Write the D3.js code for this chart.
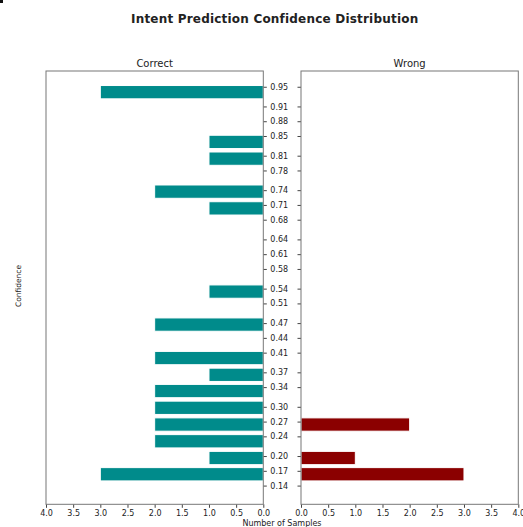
<!DOCTYPE html>
<html>
<head>
<meta charset="utf-8">
<script src="https://cdn.jsdelivr.net/npm/d3@7"></script>
<style>
  body { margin: 0; background: #fff; }
  svg { display: block; }
  text { font-family: "DejaVu Sans", sans-serif; fill: #222; }
</style>
</head>
<body>
<svg id="chart" width="523" height="527"></svg>
<script>
// Confidence bins (bar centres) and the rounded values shown as tick labels
const binCenters = [0.129, 0.163, 0.196, 0.230, 0.264, 0.298, 0.332, 0.365, 0.399, 0.433,
                    0.467, 0.500, 0.534, 0.568, 0.602, 0.635, 0.669, 0.703, 0.737, 0.770,
                    0.804, 0.838, 0.872, 0.905, 0.939];
const confidenceTicks = [0.14, 0.17, 0.20, 0.24, 0.27, 0.30, 0.34, 0.37, 0.41, 0.44,
                         0.47, 0.51, 0.54, 0.58, 0.61, 0.64, 0.68, 0.71, 0.74, 0.78,
                         0.81, 0.85, 0.88, 0.91, 0.95];
// Sample counts per bin
const correctCounts = [0, 3, 1, 2, 2, 2, 2, 1, 2, 0, 2, 0, 1, 0, 0, 0, 0, 1, 2, 0, 1, 1, 0, 0, 3];
const wrongCounts   = [0, 3, 1, 0, 2, 0, 0, 0, 0, 0, 0, 0, 0, 0, 0, 0, 0, 0, 0, 0, 0, 0, 0, 0, 0];
const countTicks = [0, 0.5, 1, 1.5, 2, 2.5, 3, 3.5, 4];

const barHeight = 0.027;
const svg = d3.select("#chart");

// corner marker
svg.append("rect").attr("x", 0).attr("y", 0).attr("width", 3).attr("height", 3).attr("fill", "#111");

const plotTop = 71, plotBottom = 504.3;
const y = d3.scaleLinear().domain([0.102, 0.982]).range([plotBottom, plotTop]);
const xL = d3.scaleLinear().domain([4, 0]).range([46, 263.3]);
const xR = d3.scaleLinear().domain([0, 4]).range([301, 518.3]);

function bars(counts, x, color) {
  const data = binCenters.map((c, i) => ({ c, n: counts[i] })).filter(d => d.n > 0);
  svg.append("g").selectAll("rect").data(data).join("rect")
    .attr("x", d => Math.min(x(0), x(d.n)))
    .attr("width", d => Math.abs(x(d.n) - x(0)))
    .attr("y", d => y(d.c + barHeight / 2))
    .attr("height", d => y(d.c - barHeight / 2) - y(d.c + barHeight / 2))
    .attr("fill", color)
    .attr("stroke", "#fff")
    .attr("stroke-width", 1);
}
bars(correctCounts, xL, "#008b8b");
bars(wrongCounts, xR, "#8b0000");

function styleAxis(g) {
  g.select(".domain").remove();
  g.selectAll(".tick line").attr("stroke", "#444");
  g.selectAll(".tick text").attr("fill", "#222").style("font-family", '"DejaVu Sans", sans-serif').style("font-size", "8px");
}

// shared confidence axis: labels on the left panel's right edge
svg.append("g").attr("transform", `translate(${xL(0)},0)`)
  .call(d3.axisRight(y).tickValues(confidenceTicks).tickFormat(d3.format(".2f")).tickSize(3.5).tickPadding(3.5))
  .call(styleAxis);
svg.append("g").attr("transform", `translate(${xR(0)},0)`)
  .call(d3.axisLeft(y).tickValues(confidenceTicks).tickFormat("").tickSize(3.5))
  .call(styleAxis);

// count axes
svg.append("g").attr("transform", `translate(0,${plotBottom})`)
  .call(d3.axisBottom(xL).tickValues(countTicks).tickFormat(d3.format(".1f")).tickSize(3.5).tickPadding(2.5))
  .call(styleAxis);
svg.append("g").attr("transform", `translate(0,${plotBottom})`)
  .call(d3.axisBottom(xR).tickValues(countTicks).tickFormat(d3.format(".1f")).tickSize(3.5).tickPadding(2.5))
  .call(styleAxis);

// panel frames
[[xL(4), xL(0)], [xR(0), xR(4)]].forEach(([a, b]) => {
  svg.append("rect").attr("x", a).attr("y", plotTop).attr("width", b - a).attr("height", plotBottom - plotTop)
    .attr("fill", "none").attr("stroke", "#777").attr("stroke-width", 1);
});

// titles and labels
svg.append("text").attr("x", 274.7).attr("y", 23).attr("text-anchor", "middle")
  .style("font-size", "12px").style("font-weight", "bold").style("letter-spacing", "0.2px")
  .text("Intent Prediction Confidence Distribution");
svg.append("text").attr("x", (xL(4) + xL(0)) / 2).attr("y", 66.5).attr("text-anchor", "middle")
  .style("font-size", "10px").text("Correct");
svg.append("text").attr("x", (xR(0) + xR(4)) / 2).attr("y", 66.5).attr("text-anchor", "middle")
  .style("font-size", "10px").text("Wrong");
svg.append("text").attr("x", 282).attr("y", 526).attr("text-anchor", "middle")
  .style("font-size", "8px").text("Number of Samples");
svg.append("text").attr("transform", "translate(21,286) rotate(-90)").attr("text-anchor", "middle")
  .style("font-size", "7.5px").text("Confidence");
</script>
</body>
</html>
